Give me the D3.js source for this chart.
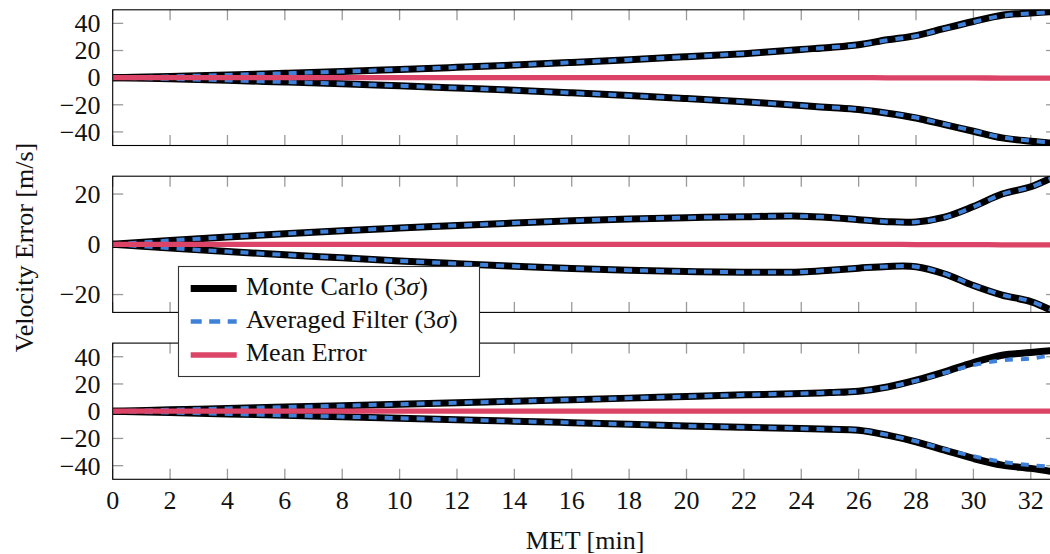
<!DOCTYPE html>
<html><head><meta charset="utf-8">
<script src="https://cdn.jsdelivr.net/npm/d3@7"></script>
<style>
html,body{margin:0;padding:0;background:#fff;overflow:hidden}
svg{display:block}
</style></head><body>
<svg id="chart" width="1050" height="554"></svg>
<script>
// ---- data ----
const times = [0,2,4,6,8,10,12,14,16,18,20,22,24,25,26,27,28,29,30,31,32,32.9];
const xTicks = [0,2,4,6,8,10,12,14,16,18,20,22,24,26,28,30,32];

const topMcUp   = [0,0.9,2.0,3.2,4.5,6.0,7.6,9.3,11.2,13.2,15.4,17.7,20.8,22.3,24.3,27.9,31.0,36.3,41.4,46.0,47.6,48.8];
const topMcLo   = [0,-0.9,-2.0,-3.2,-4.5,-6.0,-7.6,-9.3,-11.2,-13.2,-15.4,-17.7,-20.6,-22.0,-23.5,-26.2,-29.7,-34.6,-39.5,-44.4,-46.8,-48.5];
const topAfUp   = [0,0.9,2.0,3.2,4.5,6.0,7.6,9.3,11.2,13.2,15.4,17.7,20.7,22.2,24.1,27.6,30.7,36.0,41.0,45.6,47.3,48.5];
const topAfLo   = [0,-0.9,-2.0,-3.2,-4.5,-6.0,-7.6,-9.3,-11.2,-13.2,-15.4,-17.7,-20.5,-21.9,-23.3,-26.0,-29.4,-34.3,-39.2,-44.0,-46.5,-48.2];
const topMean   = [0,0,0,0,0,0,0,0,0,0,0,0,0,0,0,-0.1,-0.1,-0.2,-0.2,-0.3,-0.3,-0.3];

const midMcUp   = [0,1.5,2.9,4.2,5.4,6.5,7.5,8.5,9.4,10.1,10.6,11.0,11.2,10.7,9.8,9.0,8.9,10.8,15.0,20.0,22.9,27.4];
const midMcLo   = [0,-1.5,-2.9,-4.2,-5.4,-6.6,-7.7,-8.7,-9.6,-10.3,-10.8,-11.1,-11.0,-10.3,-9.5,-8.8,-8.9,-11.8,-16.4,-20.2,-22.8,-27.3];
const midAfUp   = [0,1.5,2.9,4.2,5.4,6.5,7.5,8.5,9.4,10.1,10.6,11.0,11.2,10.7,9.8,9.0,8.9,10.7,14.9,19.9,22.8,27.2];
const midAfLo   = [0,-1.5,-2.9,-4.2,-5.4,-6.6,-7.7,-8.7,-9.6,-10.3,-10.8,-11.1,-11.0,-10.3,-9.5,-8.8,-8.9,-11.7,-16.3,-20.1,-22.7,-27.1];
const midMean   = [0,0,0,0,0,0,0,0,0,0,0,0,0,0,0,0,-0.1,-0.1,-0.1,-0.2,-0.2,-0.2];

const botMcUp   = [0,1.0,2.0,3.0,4.0,5.1,6.2,7.3,8.4,9.6,10.8,12.0,13.0,13.7,14.7,17.8,22.8,28.9,35.7,41.1,43.1,44.8];
const botMcLo   = [0,-1.0,-2.0,-3.0,-4.0,-5.1,-6.2,-7.3,-8.4,-9.6,-10.8,-11.8,-12.7,-13.3,-14.0,-17.6,-22.5,-28.6,-34.7,-39.6,-42.0,-44.8];
const botAfUp   = [0,1.0,2.0,3.0,4.0,5.1,6.2,7.3,8.4,9.6,10.8,12.0,13.0,13.7,14.6,17.6,22.4,28.2,33.8,37.4,38.7,41.8];
const botAfLo   = [0,-1.0,-2.0,-3.0,-4.0,-5.1,-6.2,-7.3,-8.4,-9.6,-10.8,-11.8,-12.7,-13.3,-13.9,-17.4,-22.1,-28.0,-33.0,-37.2,-39.6,-41.2];
const botMean   = [0,0,0,0,0,0,0,0,0,0,0,0,0,0,0,0,0,0,0,0,0,0];

const topTicks = [-40,-20,0,20,40];
const midTicks = [-20,0,20];
const botTicks = [-40,-20,0,20,40];

const legendLabels = ["Monte Carlo (3", "Averaged Filter (3", "Mean Error"];
const xLabel = "MET [min]";
const yLabel = "Velocity Error [m/s]";

// ---- layout ----
const FONT = "'Liberation Serif', Tinos, 'Times New Roman', Times, serif";
const svg = d3.select("#chart").attr("font-family", FONT);
const FS = 26;
const TXT = "#111";
const COL_MC = "#000000", COL_AF = "#3f80d8", COL_MEAN = "#db4466";
const x = d3.scaleLinear().domain([0, 32.9]).range([112.7, 112.7 + 32.9 * 28.69]);

const panels = [
  {top: 9.8, bottom: 145.5, domain: [-50, 50], ticks: topTicks, mcU: topMcUp, mcL: topMcLo, afU: topAfUp, afL: topAfLo, mean: topMean},
  {top: 176.2, bottom: 312.4, domain: [-27.1, 27.1], ticks: midTicks, mcU: midMcUp, mcL: midMcLo, afU: midAfUp, afL: midAfLo, mean: midMean},
  {top: 343.1, bottom: 479.3, domain: [-50, 50], ticks: botTicks, mcU: botMcUp, mcL: botMcLo, afU: botAfUp, afL: botAfLo, mean: botMean}
];

const x0 = x.range()[0], x1 = x.range()[1];

panels.forEach((p, i) => {
  const y = d3.scaleLinear().domain(p.domain).range([p.bottom, p.top]);
  const g = svg.append("g");
  const clipId = "clip" + i;
  svg.append("clipPath").attr("id", clipId).append("rect")
    .attr("x", x0).attr("y", p.top).attr("width", x1 - x0).attr("height", p.bottom - p.top);

  // ticks (inward, gray)
  const tg = g.append("g").attr("stroke", "#9a9a9a").attr("stroke-width", 1.3);
  xTicks.forEach(t => {
    tg.append("line").attr("x1", x(t)).attr("x2", x(t)).attr("y1", p.top).attr("y2", p.top + 10.5);
    tg.append("line").attr("x1", x(t)).attr("x2", x(t)).attr("y1", p.bottom).attr("y2", p.bottom - 10.5);
  });
  p.ticks.forEach(v => {
    tg.append("line").attr("x1", x0).attr("x2", x0 + 10.5).attr("y1", y(v)).attr("y2", y(v));
    tg.append("line").attr("x1", x1).attr("x2", x1 - 10.5).attr("y1", y(v)).attr("y2", y(v));
  });

  // y tick labels
  g.append("g").selectAll("text").data(p.ticks).join("text")
    .attr("x", 100.5).attr("y", d => y(d)).attr("dy", "0.34em")
    .attr("text-anchor", "end").attr("font-size", FS).attr("fill", TXT)
    .text(d => d < 0 ? "\u2212" + Math.abs(d) : d);

  const lg = g.append("g").attr("clip-path", `url(#${clipId})`);
  const line = arr => d3.line().x((d, k) => x(times[k])).y(d => y(d)).curve(d3.curveCatmullRom.alpha(0.5))(arr);
  [p.mcU, p.mcL].forEach(a => lg.append("path").attr("d", line(a)).attr("fill", "none")
    .attr("stroke", COL_MC).attr("stroke-width", 7));
  [p.afU, p.afL].forEach(a => lg.append("path").attr("d", line(a)).attr("fill", "none")
    .attr("stroke", COL_AF).attr("stroke-width", 4).attr("stroke-dasharray", "8,8"));
  lg.append("path").attr("d", line(p.mean)).attr("fill", "none")
    .attr("stroke", COL_MEAN).attr("stroke-width", 5.3);

  // frame
  g.append("rect").attr("x", x0).attr("y", p.top).attr("width", x1 - x0).attr("height", p.bottom - p.top)
    .attr("fill", "none").attr("stroke", "#000").attr("stroke-width", 1.1);
});

// x tick labels
svg.append("g").selectAll("text").data(xTicks).join("text")
  .attr("x", d => x(d)).attr("y", 509).attr("text-anchor", "middle").attr("font-size", FS).attr("fill", TXT)
  .text(d => d);

svg.append("text").attr("x", 585).attr("y", 549).attr("text-anchor", "middle")
  .attr("font-size", FS).attr("fill", TXT).text(xLabel);

svg.append("text").attr("transform", "translate(33,247.5) rotate(-90)")
  .attr("text-anchor", "middle").attr("font-size", FS).attr("fill", TXT).text(yLabel);

// legend
const leg = svg.append("g");
leg.append("rect").attr("x", 178.5).attr("y", 266.5).attr("width", 301).attr("height", 110)
  .attr("fill", "#fff").attr("stroke", "#333").attr("stroke-width", 1.1);
const rows = [
  {y: 288.5, color: COL_MC, w: 7, dash: null, label: legendLabels[0], sigma: true},
  {y: 321.5, color: COL_AF, w: 4.5, dash: "11,7.5", label: legendLabels[1], sigma: true},
  {y: 355, color: COL_MEAN, w: 5.3, dash: null, label: legendLabels[2], sigma: false}
];
rows.forEach(r => {
  const l = leg.append("line").attr("x1", 190.7).attr("x2", 236.7).attr("y1", r.y).attr("y2", r.y)
    .attr("stroke", r.color).attr("stroke-width", r.w);
  if (r.dash) l.attr("stroke-dasharray", r.dash);
  const t = leg.append("text").attr("x", 246).attr("y", r.y + 6).attr("font-size", FS).attr("fill", TXT);
  t.append("tspan").text(r.label);
  if (r.sigma) {
    t.append("tspan").attr("font-style", "italic").text("\u03C3");
    t.append("tspan").text(")");
  }
});
</script>
</body></html>
